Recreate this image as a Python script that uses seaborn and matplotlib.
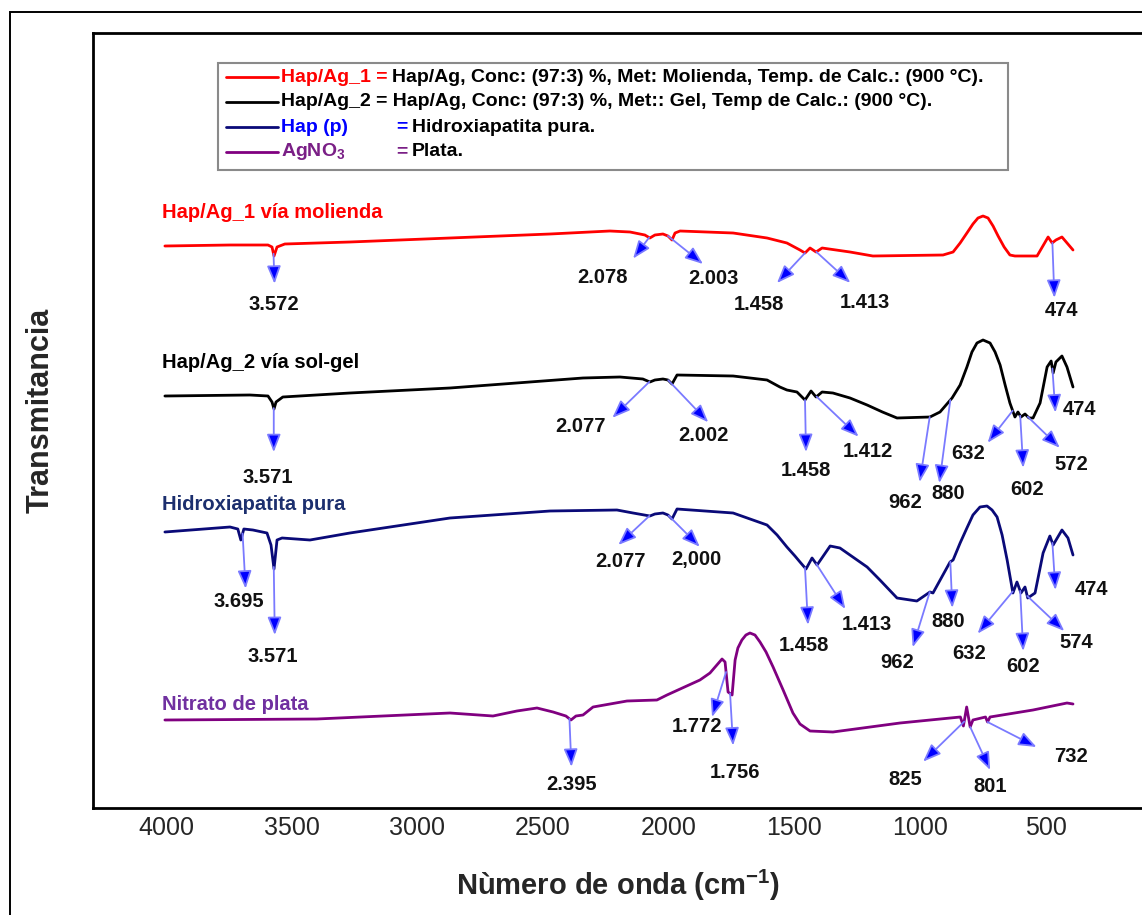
import numpy as np
import pandas as pd
import matplotlib
matplotlib.use("Agg")
import matplotlib.pyplot as plt
import seaborn as sns
from matplotlib.patches import Rectangle
from matplotlib.lines import Line2D

# ---------------- data (wavenumber cm-1, transmittance a.u.) ----------------
WN_AG1 = [4004, 3745, 3594, 3578, 3570, 3558, 3527, 3268, 2870, 2472,
          2234, 2154, 2095, 2075, 2055, 2023, 2003, 1987, 1975, 1955,
          1744, 1609, 1530, 1478, 1458, 1438, 1414, 1390, 1279, 1188,
          909, 869, 841, 814, 790, 770, 750, 730, 710, 690,
          666, 643, 623, 535, 491, 475, 460, 436, 392]
T_AG1 = [562, 563, 563, 561, 552, 561, 564, 566, 570, 574,
         577, 576, 573, 570, 573, 574, 572, 568, 575, 577,
         575, 570, 565, 558, 555, 560, 556, 560, 556, 552,
         553, 556, 565, 575, 584, 590, 592, 590, 582, 572,
         561, 553, 552, 552, 571, 565, 568, 571, 558]

WN_AG2 = [4004, 3666, 3594, 3578, 3570, 3562, 3535, 3268, 2870, 2341,
          2194, 2103, 2075, 2055, 2023, 2003, 1987, 1967, 1744, 1609,
          1558, 1530, 1490, 1458, 1434, 1414, 1390, 1347, 1279, 1211,
          1150, 1092, 961, 921, 873, 841, 814, 794, 774, 750,
          722, 702, 682, 662, 643, 623, 611, 599, 583, 567,
          551, 523, 495, 479, 471, 460, 436, 416, 392]
T_AG2 = [412, 413, 412, 406, 399, 406, 411, 415, 420, 430,
         431, 429, 426, 428, 429, 428, 424, 433, 432, 428,
         421, 418, 416, 408, 417, 411, 416, 415, 410, 403,
         396, 390, 391, 396, 410, 423, 441, 456, 465, 468,
         465, 456, 443, 423, 405, 391, 396, 391, 394, 390,
         390, 405, 441, 447, 435, 446, 452, 441, 421]

WN_HAP = [4004, 3745, 3714, 3702, 3690, 3654, 3598, 3582, 3570, 3558,
          3538, 3427, 3268, 2870, 2472, 2206, 2142, 2075, 2055, 2023,
          2003, 1987, 1967, 1744, 1609, 1569, 1530, 1498, 1478, 1454,
          1430, 1410, 1358, 1319, 1211, 1160, 1092, 1013, 961, 949,
          881, 869, 841, 814, 790, 762, 734, 714, 694, 674,
          654, 631, 615, 599, 583, 572, 543, 511, 484, 471,
          436, 412, 392]
T_HAP = [276, 281, 279, 268, 279, 278, 275, 263, 239, 268,
         270, 268, 275, 290, 297, 298, 295, 292, 294, 295,
         293, 289, 299, 295, 283, 273, 261, 252, 246, 239,
         250, 243, 262, 260, 241, 228, 210, 207, 216, 215,
         246, 248, 265, 280, 293, 301, 302, 298, 291, 273,
         248, 215, 226, 215, 221, 210, 215, 255, 272, 263,
         278, 270, 253]

WN_AGNO3 = [4004, 3400, 3137, 2870, 2699, 2604, 2524, 2460, 2409, 2389,
            2369, 2341, 2301, 2166, 2047, 2007, 1876, 1836, 1788, 1776,
            1764, 1748, 1736, 1725, 1709, 1693, 1677, 1657, 1637, 1613,
            1585, 1545, 1506, 1478, 1438, 1347, 1080, 840, 828, 815,
            801, 790, 740, 732, 722, 551, 416, 392]
T_AGNO3 = [88, 89, 92, 95, 92, 97, 100, 96, 92, 88,
           92, 93, 101, 107, 108, 113, 128, 135, 149, 146,
           116, 113, 148, 160, 168, 173, 175, 173, 166, 156,
           141, 118, 95, 84, 77, 76, 85, 91, 82, 101,
           81, 88, 91, 86, 91, 98, 105, 104]

SERIES = ["Hap/Ag_1", "Hap/Ag_2", "Hap (p)", "AgNO3"]
SERIES_LABELS = ["Hap/Ag_1 vía molienda", "Hap/Ag_2 vía sol-gel",
                 "Hidroxiapatita pura", "Nitrato de plata"]

PEAKS_AG1 = [("3.572", 3572), ("2.078", 2078), ("2.003", 2003),
             ("1.458", 1458), ("1.413", 1413), ("474", 474)]
PEAKS_AG2 = [("3.571", 3571), ("2.077", 2077), ("2.002", 2002),
             ("1.458", 1458), ("1.412", 1412), ("962", 962), ("880", 880),
             ("632", 632), ("602", 602), ("572", 572), ("474", 474)]
PEAKS_HAP = [("3.695", 3695), ("3.571", 3571), ("2.077", 2077),
             ("2,000", 2000), ("1.458", 1458), ("1.413", 1413), ("962", 962),
             ("880", 880), ("632", 632), ("602", 602), ("574", 574), ("474", 474)]
PEAKS_AGNO3 = [("2.395", 2395), ("1.772", 1772), ("1.756", 1756),
               ("825", 825), ("801", 801), ("732", 732)]

XTICKS = [4000, 3500, 3000, 2500, 2000, 1500, 1000, 500]
XTICK_LABELS = ["4000", "3500", "3000", "2500", "2000", "1500", "1000", "500"]

LEGEND_ROWS = [
    "Hap/Ag, Conc: (97:3) %, Met: Molienda, Temp. de Calc.: (900 °C).",
    "Hap/Ag_2 = Hap/Ag, Conc: (97:3) %, Met:: Gel, Temp de Calc.: (900 °C).",
    "Hidroxiapatita pura.",
    "Plata.",
]

# ---------------- layout / style ----------------
# arrow layout: (dx_tip, dy_tip, dx_label, dy_label) in pixels, y downward
LAYOUT_AG1 = [(1, 30, 0, 51), (-16, 21, -47, 40), (35, 28, 45, 42),
              (-28, 30, -46, 52), (34, 31, 49, 51), (2, 55, 9, 68)]
LAYOUT_AG2 = [(0, 44, -6, 69), (-37, 36, -69, 45), (40, 42, 35, 55),
              (1, 52, 1, 70), (42, 40, 51, 55), (-10, 65, -25, 85),
              (-11, 83, -2, 93), (-25, 32, -45, 43), (3, 52, 7, 74),
              (32, 31, 44, 48), (3, 44, 27, 41)]
LAYOUT_HAP = [(3, 55, -4, 68), (1, 68, -1, 89), (-31, 29, -29, 46),
              (31, 31, 28, 44), (3, 57, -1, 78), (29, 45, 51, 61),
              (-17, 55, -33, 70), (2, 46, -2, 60), (-35, 42, -44, 62),
              (3, 60, 3, 76), (37, 35, 49, 47), (3, 47, 39, 47)]
LAYOUT_AGNO3 = [(2, 48, 2, 66), (-14, 45, -29, 55), (3, 52, 5, 79),
                (-41, 40, -59, 58), (20, 43, 20, 60), (49, 25, 83, 35)]

LINE_COLORS = {"Hap/Ag_1": "#ff0000", "Hap/Ag_2": "#000000",
               "Hap (p)": "#0a0a78", "AgNO3": "#800080"}
LABEL_COLORS = ["#ff0000", "#000000", "#1c2f6e", "#7030a0"]

W, H = 1142, 915

sns.set_style("white")
plt.rcParams["font.family"] = ["Liberation Sans", "DejaVu Sans"]
plt.rcParams["mathtext.fontset"] = "custom"
plt.rcParams["mathtext.rm"] = "Liberation Sans"
plt.rcParams["mathtext.bf"] = "Liberation Sans:bold"
plt.rcParams["mathtext.it"] = "Liberation Sans:italic"

fig = plt.figure(figsize=(W / 100, H / 100), dpi=100)
fig.patch.set_facecolor("white")

ax_left, ax_right, ax_top, ax_bot = 93, 1160, 33, 808
ax = fig.add_axes([ax_left / W, 1 - ax_bot / H, (ax_right - ax_left) / W,
                   (ax_bot - ax_top) / H])

frames = []
for name, wn, t in [("Hap/Ag_1", WN_AG1, T_AG1), ("Hap/Ag_2", WN_AG2, T_AG2),
                    ("Hap (p)", WN_HAP, T_HAP), ("AgNO3", WN_AGNO3, T_AGNO3)]:
    frames.append(pd.DataFrame({"wn": wn, "T": t, "serie": name}))
df = pd.concat(frames, ignore_index=True)

sns.lineplot(data=df, x="wn", y="T", hue="serie", palette=LINE_COLORS,
             estimator=None, sort=False, legend=False, linewidth=2.0, ax=ax)
for ln in ax.lines:
    ln.set_solid_joinstyle("round")

ax.set_xlim(4290, 46)
ax.set_ylim(0, 775)
ax.set_xticks(XTICKS)
ax.set_xticklabels(XTICK_LABELS, fontsize=18)
ax.set_yticks([])
ax.tick_params(axis="x", length=0, pad=6)
ax.set_xlabel("")
ax.set_ylabel("")
for sp in ax.spines.values():
    sp.set_linewidth(2.0)
    sp.set_color("black")

# arrows & peak labels
def draw_peaks(wn, t, peaks, layout):
    xs = np.array(wn[::-1], dtype=float)
    ys = np.array(t[::-1], dtype=float)
    for (txt, pk), (dxt, dyt, dxl, dyl) in zip(peaks, layout):
        y0 = float(np.interp(pk, xs, ys))
        start_disp = ax.transData.transform((pk, y0))
        tip = ax.transData.inverted().transform(start_disp + np.array([dxt, -dyt]))
        ax.annotate("", xy=tip, xytext=(pk, y0),
                    arrowprops=dict(arrowstyle="-|>,head_length=0.9,head_width=0.35",
                                    mutation_scale=12, fc="#0000ff", ec="#7a7aff",
                                    lw=1.3, shrinkA=0, shrinkB=0))
        ax.annotate(txt, xy=(pk, y0), xytext=(dxl, -dyl), textcoords="offset pixels",
                    ha="center", va="center", fontsize=14.5, fontweight="bold",
                    color="#111111")

draw_peaks(WN_AG1, T_AG1, PEAKS_AG1, LAYOUT_AG1)
draw_peaks(WN_AG2, T_AG2, PEAKS_AG2, LAYOUT_AG2)
draw_peaks(WN_HAP, T_HAP, PEAKS_HAP, LAYOUT_HAP)
draw_peaks(WN_AGNO3, T_AGNO3, PEAKS_AGNO3, LAYOUT_AGNO3)

def fx(px):
    return px / W

def fy(py):
    return 1 - py / H

# series labels
for lab, col, ypx in zip(SERIES_LABELS, LABEL_COLORS, [213, 363, 505, 704]):
    fig.text(fx(162), fy(ypx), lab, color=col, fontsize=14.5, fontweight="bold",
             ha="left", va="center")

# legend box
leg = Rectangle((fx(218), fy(170)), fx(1008) - fx(218), fy(63) - fy(170),
                transform=fig.transFigure, facecolor="white", edgecolor="#8a8a8a",
                lw=1.5, zorder=5)
fig.patches.append(leg)
rows_y = [77, 102, 127, 152]
for ypx, name in zip(rows_y, SERIES):
    fig.lines.append(Line2D([fx(226), fx(278)], [fy(ypx), fy(ypx)],
                            transform=fig.transFigure, color=LINE_COLORS[name],
                            lw=2.0, zorder=6))

renderer = fig.canvas.get_renderer()
LFS = 14
t1 = fig.text(fx(281), fy(rows_y[0]), "Hap/Ag_1 =", color="#ff0000", fontsize=LFS,
              fontweight="bold", ha="left", va="center", zorder=7)
w1 = t1.get_window_extent(renderer).width
fig.text(fx(281 + w1 + 5), fy(rows_y[0]), LEGEND_ROWS[0], color="black", fontsize=LFS,
         fontweight="bold", ha="left", va="center", zorder=7)
fig.text(fx(281), fy(rows_y[1]), LEGEND_ROWS[1], color="black", fontsize=LFS,
         fontweight="bold", ha="left", va="center", zorder=7)
fig.text(fx(281), fy(rows_y[2]), "Hap (p)", color="#0000ff", fontsize=LFS,
         fontweight="bold", ha="left", va="center", zorder=7)
fig.text(fx(396), fy(rows_y[2]), "=", color="#0000ff", fontsize=LFS,
         fontweight="bold", ha="left", va="center", zorder=7)
fig.text(fx(412), fy(rows_y[2]), LEGEND_ROWS[2], color="black", fontsize=LFS,
         fontweight="bold", ha="left", va="center", zorder=7)
fig.text(fx(281), fy(rows_y[3]), r"AgNO$_\mathbf{3}$", color="#7a1f86", fontsize=LFS,
         fontweight="bold", ha="left", va="center", zorder=7)
fig.text(fx(396), fy(rows_y[3]), "=", color="#7a1f86", fontsize=LFS,
         fontweight="bold", ha="left", va="center", zorder=7)
fig.text(fx(412), fy(rows_y[3]), LEGEND_ROWS[3], color="black", fontsize=LFS,
         fontweight="bold", ha="left", va="center", zorder=7)

# axis titles
fig.text(fx(41), fy(410), "Transmitancia", rotation=90, fontsize=22,
         fontweight="bold", ha="center", va="center")
fig.text(fx(618), fy(885), r"Nùmero de onda (cm$^{\mathbf{-1}}$)", fontsize=21,
         fontweight="bold", ha="center", va="center")

# outer frame
outer = Rectangle((fx(10), -0.05), 1.2, fy(12) + 0.05, transform=fig.transFigure,
                  facecolor="none", edgecolor="black", lw=1.4, zorder=10)
fig.patches.append(outer)

fig.savefig("out.png", dpi=100)
